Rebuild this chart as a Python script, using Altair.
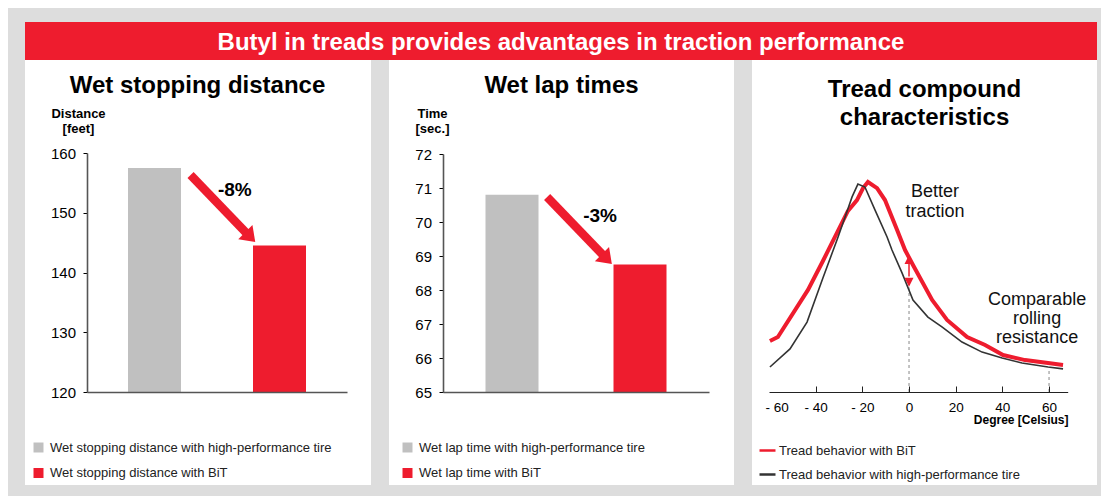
import altair as alt
import pandas as pd

FONT = "Liberation Sans"
RED = "#EE1C2E"
GRAY_BAR = "#C0C0C0"
BG = "#DDDDDD"
DARK = "#333333"

banner_title = "Butyl in treads provides advantages in traction performance"

# ---------- Panel 1 data ----------
p1_title = "Wet stopping distance"
p1_categories = ["Wet stopping distance with high-performance tire",
                 "Wet stopping distance with BiT"]
p1_values = [157.5, 144.5]
p1_ticks = [120, 130, 140, 150, 160]
p1_axis_title = ["Distance", "[feet]"]
p1_change = "-8%"
# annotation anchors in data space (category index, value)
p1_arrow_x = [0.2885, 0.7423]
p1_arrow_y = [156.32, 146.44]
p1_head = [0.7495, 146.29]
p1_label = [0.6423, 152.8]

# ---------- Panel 2 data ----------
p2_title = "Wet lap times"
p2_categories = ["Wet lap time with high-performance tire",
                 "Wet lap time with BiT"]
p2_values = [70.8, 68.75]
p2_ticks = [65, 66, 67, 68, 69, 70, 71, 72]
p2_axis_title = ["Time", "[sec.]"]
p2_change = "-3%"
p2_arrow_x = [0.2744, 0.7180]
p2_arrow_y = [70.735, 69.0]
p2_head = [0.7250, 68.973]
p2_label = [0.688, 70.0]

# ---------- Panel 3 data ----------
p3_title = ["Tread compound", "characteristics"]
s_bit = "Tread behavior with BiT"
s_hp = "Tread behavior with high-performance tire"
red_x = [-59.6, -56.2, -43.3, -36.9, -26.2, -22.3, -19.7, -17.6, -13.7, -10.3,
         -5.1, -1.7, 1.7, 9.9, 16.3, 24.9, 32.6, 40.3, 49.7, 59.6, 66.0]
red_y = [24.3, 26.2, 48.6, 62.4, 86.2, 91.4, 97.1, 100.0, 97.1, 91.4,
         77.1, 67.6, 60.5, 43.8, 34.3, 26.2, 22.4, 17.6, 15.2, 13.8, 12.9]
gray_x = [-59.6, -51.0, -43.7, -36.9, -30.4, -27.4, -24.4, -21.9, -18.9, -14.6,
          -9.4, -7.3, -3.0, 1.7, 8.1, 14.1, 22.7, 31.3, 39.9, 48.4, 59.6, 66.0]
gray_y = [11.9, 20.5, 33.3, 54.3, 73.8, 83.3, 92.9, 99.0, 97.6, 86.7,
          73.8, 67.6, 56.7, 43.8, 35.7, 31.0, 23.8, 19.0, 16.2, 13.8, 11.9, 11.0]
deg_ticks = [-60, -40, -20, 0, 20, 40, 60]
deg_inner_ticks = [-40, -20, 0, 20, 40, 60]
deg_title = "Degree [Celsius]"
dash_x = [0, 60]
dash_top = [49.8, 11.4]
traction_arrow = [55.0, 61.0]      # shaft (values)
traction_heads = [63.1, 52.3]       # head centres (values)
note1 = ["Better", "traction"]
note1_pos = [11.1, 92.9]
note2 = ["Comparable", "rolling", "resistance"]
note2_pos = [54.9, 41.4]

H = 425


def bar_panel(width, title, cats, vals, ticks, ytitle, title_dx, xr, yr,
              change, arrow_x, arrow_y, head, lab, legend_x):
    df = pd.DataFrame({"cat": cats, "val": vals, "idx": list(range(len(cats)))})
    xs = alt.Scale(domain=[-0.5, 1.5], range=xr)
    ys = alt.Scale(domain=[ticks[0], ticks[-1]], range=yr, zero=False, nice=False)
    bars = alt.Chart(df).mark_bar(size=53).encode(
        x=alt.X("idx:Q", scale=xs,
                axis=alt.Axis(labels=False, ticks=False, grid=False, title=None,
                              domainColor="#555555", domainWidth=1.6,
                              offset=-(H - yr[0]), zindex=1)),
        y=alt.Y("val:Q", scale=ys,
                axis=alt.Axis(values=ticks, grid=False, offset=-xr[0],
                              tickSize=4, labelPadding=7.5, labelFontSize=15,
                              labelColor="black", tickColor="black",
                              domainColor="#555555", domainWidth=1.6, zindex=1,
                              title=ytitle, titleAngle=0, titleFontSize=13,
                              titleFontWeight="bold", titleColor="black",
                              titleX=title_dx, titleY=57, titleAlign="center",
                              titleBaseline="alphabetic", titleLineHeight=15)),
        y2=alt.datum(ticks[0]),
        color=alt.Color("cat:N", scale=alt.Scale(domain=cats, range=[GRAY_BAR, RED]),
                        legend=alt.Legend(orient="none", legendX=legend_x, legendY=381,
                                          title=None, symbolType="square", symbolSize=100,
                                          symbolStrokeWidth=0, symbolOpacity=1,
                                          labelFontSize=13, labelColor="#222222",
                                          labelOffset=5, rowPadding=11.5, padding=0,
                                          labelLimit=400, direction="vertical")),
    )
    arrow_df = pd.DataFrame({"x": arrow_x, "y": arrow_y, "o": [0, 1]})
    shaft = alt.Chart(arrow_df).mark_line(color=RED, strokeWidth=8.5, strokeCap="butt").encode(
        x=alt.X("x:Q", scale=xs, axis=None), y=alt.Y("y:Q", scale=ys, axis=None),
        order="o:O")
    head_df = pd.DataFrame({"x": [head[0]], "y": [head[1]]})
    headm = alt.Chart(head_df).mark_point(shape="M1,0L-0.4,-1L-0.4,1Z", size=400, angle=45,
                                          filled=True, color=RED, opacity=1,
                                          strokeWidth=0).encode(
        x=alt.X("x:Q", scale=xs, axis=None), y=alt.Y("y:Q", scale=ys, axis=None))
    lab_df = pd.DataFrame({"x": [lab[0]], "y": [lab[1]], "t": [change]})
    labm = alt.Chart(lab_df).mark_text(fontSize=19, fontWeight="bold", color="black",
                                       align="center", baseline="alphabetic").encode(
        x=alt.X("x:Q", scale=xs, axis=None), y=alt.Y("y:Q", scale=ys, axis=None),
        text="t:N")
    title_m = alt.Chart(pd.DataFrame({"t": [title]})).mark_text(
        fontSize=24, fontWeight="bold", color="black", align="center",
        baseline="alphabetic").encode(text="t:N", x=alt.value(172.5), y=alt.value(33))
    return alt.layer(bars, shaft, headm, labm, title_m).resolve_axis(
        x="independent", y="independent").properties(
        width=width, height=H, view=alt.ViewBackground(fill="white", strokeWidth=0))


p1 = bar_panel(346, p1_title, p1_categories, p1_values, p1_ticks, p1_axis_title, -9,
               [62, 322], [332, 93], p1_change, p1_arrow_x, p1_arrow_y, p1_head,
               p1_label, 7)
p2 = bar_panel(345, p2_title, p2_categories, p2_values, p2_ticks, p2_axis_title, -11,
               [54, 320], [332, 94], p2_change, p2_arrow_x, p2_arrow_y, p2_head,
               p2_label, 12)

# ---------- Panel 3 ----------
xs3 = alt.Scale(domain=[-60, 68], range=[17, 315.7], nice=False, zero=False)
ys3 = alt.Scale(domain=[0, 100], range=[332, 122], nice=False, zero=False)
curve_df = pd.DataFrame({
    "deg": red_x + gray_x,
    "val": red_y + gray_y,
    "series": [s_bit] * len(red_x) + [s_hp] * len(gray_x),
})
cscale = alt.Scale(domain=[s_bit, s_hp], range=[RED, DARK])
leg3 = alt.Legend(orient="none", legendX=6, legendY=381, title=None, symbolType="stroke",
                  symbolSize=256, symbolStrokeWidth=2.5, labelFontSize=13,
                  labelColor="#222222", labelOffset=2, rowPadding=7, padding=0,
                  labelLimit=400, direction="vertical")
xaxis3 = alt.Axis(values=deg_ticks,
                  labelExpr="datum.value < 0 ? '- ' + abs(datum.value) : '' + datum.value",
                  grid=False, ticks=False, labelPadding=8, labelFontSize=13.5,
                  labelColor="black", labelFlush=True, labelFlushOffset=4,
                  domainColor="#222222", domainWidth=1,
                  offset=-93, zindex=1, title=deg_title, titleFontSize=12,
                  titleFontWeight="bold", titleColor="black", titleX=316, titleY=31,
                  titleAlign="right", titleBaseline="alphabetic")
xaxis3_ticks = alt.Axis(orient="top", values=deg_inner_ticks, labels=False, domain=False,
                        grid=False, tickSize=6, tickColor="#222222", tickWidth=1,
                        offset=-332, zindex=1, title=None)

dash_df = pd.DataFrame({"deg": dash_x, "y0": [0, 0], "y1": dash_top})
dashes = alt.Chart(dash_df).mark_rule(color="#888888", strokeWidth=1, strokeDash=[3, 3]).encode(
    x=alt.X("deg:Q", scale=xs3, axis=xaxis3),
    y=alt.Y("y0:Q", scale=ys3, axis=None), y2="y1:Q")
red_line = alt.Chart(curve_df).transform_filter(alt.datum.series == s_bit).mark_line(
    strokeWidth=4).encode(
    x=alt.X("deg:Q", scale=xs3, axis=xaxis3_ticks), y=alt.Y("val:Q", scale=ys3, axis=None),
    color=alt.Color("series:N", scale=cscale, legend=leg3))
gray_line = alt.Chart(curve_df).transform_filter(alt.datum.series == s_hp).mark_line(
    strokeWidth=1.6).encode(
    x=alt.X("deg:Q", scale=xs3, axis=None), y=alt.Y("val:Q", scale=ys3, axis=None),
    color=alt.Color("series:N", scale=cscale, legend=leg3))
ta_df = pd.DataFrame({"deg": [0], "a": [traction_arrow[0]], "b": [traction_arrow[1]]})
ta_rule = alt.Chart(ta_df).mark_rule(color=RED, strokeWidth=1.5).encode(
    x=alt.X("deg:Q", scale=xs3, axis=None), y=alt.Y("a:Q", scale=ys3, axis=None), y2="b:Q")
ta_up = alt.Chart(pd.DataFrame({"deg": [0], "v": [traction_heads[0]]})).mark_point(
    shape="M0,-1L1,1L-1,1Z", size=81, filled=True, color=RED, opacity=1, strokeWidth=0).encode(
    x=alt.X("deg:Q", scale=xs3, axis=None), y=alt.Y("v:Q", scale=ys3, axis=None))
ta_down = alt.Chart(pd.DataFrame({"deg": [0], "v": [traction_heads[1]]})).mark_point(
    shape="M0,1L1,-1L-1,-1Z", size=81, filled=True, color=RED, opacity=1, strokeWidth=0).encode(
    x=alt.X("deg:Q", scale=xs3, axis=None), y=alt.Y("v:Q", scale=ys3, axis=None))
n1 = alt.Chart(pd.DataFrame({"deg": [note1_pos[0]], "v": [note1_pos[1]],
                             "t": [note1]})).mark_text(
    fontSize=18, lineHeight=20, color="#111111", align="center", baseline="alphabetic").encode(
    x=alt.X("deg:Q", scale=xs3, axis=None), y=alt.Y("v:Q", scale=ys3, axis=None), text="t")
n2 = alt.Chart(pd.DataFrame({"deg": [note2_pos[0]], "v": [note2_pos[1]],
                             "t": [note2]})).mark_text(
    fontSize=18, lineHeight=19, color="#111111", align="center", baseline="alphabetic").encode(
    x=alt.X("deg:Q", scale=xs3, axis=None), y=alt.Y("v:Q", scale=ys3, axis=None), text="t")
t3 = alt.Chart(pd.DataFrame({"t": [p3_title]})).mark_text(
    fontSize=24, fontWeight="bold", color="black", align="center", baseline="alphabetic",
    lineHeight=28).encode(text="t", x=alt.value(172.5), y=alt.value(37))

p3 = alt.layer(dashes, red_line, gray_line, ta_rule, ta_up, ta_down, n1, n2, t3).resolve_axis(
    x="independent").properties(
    width=345, height=H, view=alt.ViewBackground(fill="white", strokeWidth=0))

banner = alt.Chart(pd.DataFrame({"t": [banner_title]})).mark_text(
    fontSize=24, fontWeight="bold", color="white", align="center",
    baseline="alphabetic").encode(text="t:N", x=alt.value(536), y=alt.value(28)).properties(
    width=1072, height=38, view=alt.ViewBackground(fill=RED, strokeWidth=0))

panels = alt.hconcat(p1, p2, p3, spacing=18).resolve_scale(
    color="independent", x="independent", y="independent").resolve_legend(color="independent")

chart = alt.vconcat(
    banner,
    panels,
    spacing=0,
).properties(
    background=BG,
    padding={"left": 17, "top": 14, "right": 4, "bottom": 11},
).configure(font=FONT).configure_view(strokeWidth=0)

chart.save("out.html", embed_options={"renderer": "svg", "actions": False})
